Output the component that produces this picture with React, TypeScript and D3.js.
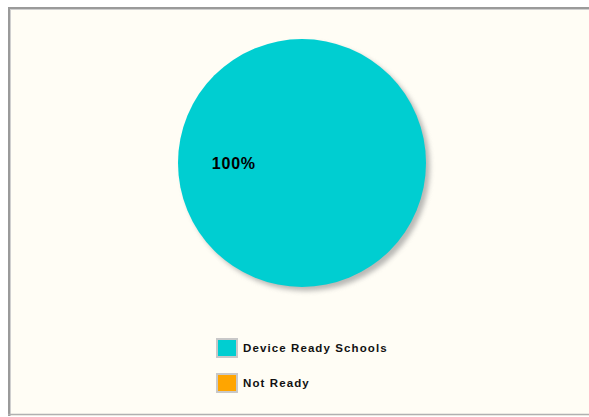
import React from "react";
import * as d3 from "d3";

const categories = ["Device Ready Schools", "Not Ready"];
const values = [100, 0];
const colors = ["#00ced1", "#ffa500"];

const W = 589;
const H = 417;

export default function App() {
  const cx = 302;
  const cy = 163;
  const r = 124;
  const pie = d3
    .pie<number>()
    .sort(null)
    .startAngle(Math.PI / 2)
    .endAngle(Math.PI / 2 + 2 * Math.PI);
  const arcs = pie(values);
  const arc = d3.arc<d3.PieArcDatum<number>>().innerRadius(0).outerRadius(r);
  const labelArc = d3
    .arc<d3.PieArcDatum<number>>()
    .innerRadius(r * 0.55)
    .outerRadius(r * 0.55);
  const total = d3.sum(values);
  const fmt = (v: number) => `${Math.round((v / total) * 100)}%`;

  const legendY = d3.scalePoint<string>().domain(categories).range([348, 383]);

  return (
    <svg
      width={W}
      height={H}
      style={{ position: "absolute", left: 0, top: 0 }}
      fontFamily="'Liberation Sans', Arial, sans-serif"
    >
      <defs>
        <filter id="shadow" x="-20%" y="-20%" width="140%" height="140%">
          <feGaussianBlur stdDeviation="2.5" />
        </filter>
      </defs>
      <rect x={0} y={0} width={W} height={H} fill="#ffffff" />
      <rect x={8} y={7} width={W} height={409} fill="#fffdf5" />
      <line x1={8} y1={8} x2={W} y2={8} stroke="#9a9a9a" strokeWidth={2} />
      <line x1={8} y1={9.5} x2={W} y2={9.5} stroke="#cfcfcf" strokeWidth={1} />
      <line x1={9} y1={7} x2={9} y2={416} stroke="#9a9a9a" strokeWidth={2} />
      <line x1={10.5} y1={9} x2={10.5} y2={416} stroke="#cfcfcf" strokeWidth={1} />
      <line x1={8} y1={414.5} x2={W} y2={414.5} stroke="#b0b0b0" strokeWidth={1.5} />

      <circle cx={cx + 4} cy={cy + 4} r={r} fill="#8a8a8a" opacity={0.6} filter="url(#shadow)" />
      <g transform={`translate(${cx},${cy})`}>
        {arcs.map((a, i) =>
          a.endAngle - a.startAngle > 0 ? (
            <path key={i} d={arc(a) || ""} fill={colors[i]} />
          ) : null
        )}
        {arcs.map((a, i) => {
          if (a.value <= 0) return null;
          const [lx, ly] = labelArc.centroid(a);
          return (
            <text
              key={"l" + i}
              x={lx}
              y={ly}
              dy="0.35em"
              textAnchor="middle"
              fontSize={16}
              letterSpacing={0.8}
              fontWeight="bold"
              fill="#000"
            >
              {fmt(a.value)}
            </text>
          );
        })}
      </g>

      {categories.map((c, i) => {
        const y = legendY(c) as number;
        return (
          <g key={c}>
            <rect x={216} y={y - 10} width={22} height={20} fill="#c8c8c8" />
            <rect x={218} y={y - 8} width={18} height={16} fill={colors[i]} />
            <text
              x={243}
              y={y}
              dy="0.35em"
              fontSize={11.5}
              letterSpacing={1.1}
              fontWeight="bold"
              fill="#111"
            >
              {c}
            </text>
          </g>
        );
      })}
    </svg>
  );
}
